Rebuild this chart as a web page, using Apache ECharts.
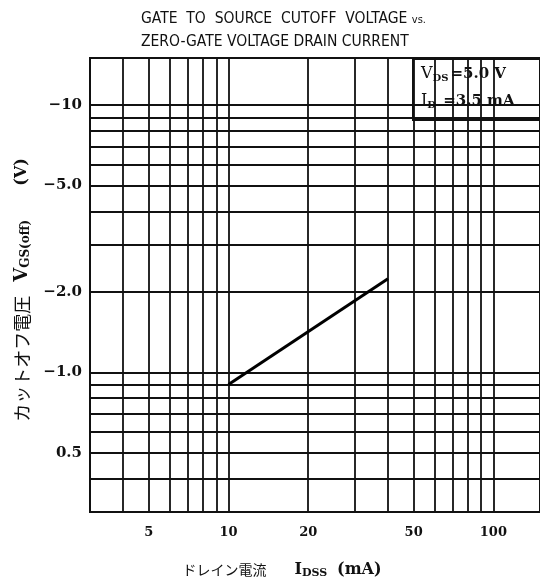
<!DOCTYPE html>
<html><head><meta charset="utf-8">
<script src="https://cdn.jsdelivr.net/npm/echarts@6/dist/echarts.min.js"></script>
<style>html,body{margin:0;padding:0;background:#fff}#c{width:540px;height:584px}</style>
</head><body><div id="c"></div>
<script>
const xGrid = [4,5,6,7,8,9,10,20,30,40,50,60,70,80,90,100];
const yGrid = [0.4,0.5,0.6,0.7,0.8,0.9,1,2,3,4,5,6,7,8,9,10];
const xLabels = [5,10,20,50,100];
const yLabels = [0.5,1,2,5,10];
const yLabelText = {0.5:'0.5', 1:'\u22121.0', 2:'\u22122.0', 5:'\u22125.0', 10:'\u221210'};
const idss = [10, 40];
const vgsoff = [0.9, 2.24];

const chart = echarts.init(document.getElementById('c'));
const gridCol = '#111';
const titleFont = '"DejaVu Sans Condensed", sans-serif';
chart.setOption({
  animation: false,
  backgroundColor: '#fff',
  title: {
    text: 'GATE  TO  SOURCE  CUTOFF  VOLTAGE {s|vs.}\nZERO-GATE VOLTAGE DRAIN CURRENT',
    left: 136, top: 2,
    textStyle: {
      fontFamily: titleFont, fontWeight: 'normal', fontSize: 15.5, color: '#111', lineHeight: 23,
      rich: { s: { fontFamily: titleFont, fontSize: 11, color: '#111', lineHeight: 23, padding: [4,0,0,0] } }
    }
  },
  grid: { left: 90, right: 0, top: 58, bottom: 69, show: true, borderColor: gridCol, borderWidth: 2, backgroundColor: 'transparent' },
  xAxis: {
    type: 'log', min: 3, max: 150, logBase: 10,
    axisLine: { show: true, lineStyle: { color: gridCol, width: 2 } },
    axisTick: { show: false, customValues: xGrid },
    splitLine: { show: true, lineStyle: { color: gridCol, width: 1.8 } },
    axisLabel: { customValues: xLabels, margin: 14, fontFamily: 'DejaVu Serif', fontWeight: 'bold', fontSize: 13, color: '#111' },
    name: '{jp|ドレイン電流}{v|I}{sub|DSS}{p|(mA)}',
    nameLocation: 'middle', nameGap: 48,
    nameTextStyle: {
      padding: [0, 66, 0, 0],
      rich: {
        jp: { fontFamily: 'Noto Sans CJK JP', fontSize: 14, color: '#111' },
        v: { fontFamily: 'DejaVu Serif', fontWeight: 'bold', fontSize: 16, color: '#111', padding: [0,0,0,28] },
        sub: { fontFamily: 'DejaVu Serif', fontWeight: 'bold', fontSize: 11, color: '#111', padding: [8,0,0,0] },
        p: { fontFamily: 'DejaVu Serif', fontWeight: 'bold', fontSize: 16, color: '#111', padding: [0,0,0,10] }
      }
    }
  },
  yAxis: {
    type: 'log', min: 0.3, max: 15, logBase: 10,
    axisLine: { show: true, lineStyle: { color: gridCol, width: 2 } },
    axisTick: { show: false, customValues: yGrid },
    splitLine: { show: true, lineStyle: { color: gridCol, width: 1.8 } },
    axisLabel: {
      customValues: yLabels, margin: 8, fontFamily: 'DejaVu Serif', fontWeight: 'bold', fontSize: 15, color: '#111',
      formatter: v => yLabelText[Math.round(v*10)/10] || ''
    },
    name: '{jp|カットオフ電圧}{v|V}{sub|GS(off)}{p|(V)}',
    nameLocation: 'middle', nameGap: 58, nameRotate: 90,
    nameTextStyle: {
      padding: [0, 10, 0, 0],
      rich: {
        jp: { fontFamily: 'Noto Sans CJK JP', fontSize: 18, color: '#111' },
        v: { fontFamily: 'DejaVu Serif', fontWeight: 'bold', fontSize: 18, color: '#111', padding: [0,0,0,14] },
        sub: { fontFamily: 'DejaVu Serif', fontWeight: 'bold', fontSize: 12, color: '#111', padding: [8,0,0,0] },
        p: { fontFamily: 'DejaVu Serif', fontWeight: 'bold', fontSize: 16, color: '#111', padding: [0,0,0,34] }
      }
    }
  },
  graphic: [{
    type: 'group', left: 412, top: 58, z: 100,
    children: [
      { type: 'rect', shape: { x: 0, y: 0, width: 127, height: 61 }, style: { fill: '#fff', stroke: '#111', lineWidth: 2 } },
      { type: 'text', x: 8, y: 6, style: {
          text: '{v|V}{sub|DS}{t|=5.0 V}',
          rich: {
            v: { fontFamily: 'DejaVu Serif', fontSize: 16, fill: '#111' },
            sub: { fontFamily: 'DejaVu Serif', fontWeight: 'bold', fontSize: 10, fill: '#111', padding: [8,2,0,0] },
            t: { fontFamily: 'DejaVu Serif', fontWeight: 'bold', fontSize: 15, fill: '#111' }
          }
      } },
      { type: 'text', x: 8, y: 33, style: {
          text: '{v|I}{sub|D}{t| =3.5 mA}',
          rich: {
            v: { fontFamily: 'DejaVu Serif', fontSize: 16, fill: '#111' },
            sub: { fontFamily: 'DejaVu Serif', fontWeight: 'bold', fontSize: 10, fill: '#111', padding: [8,2,0,0] },
            t: { fontFamily: 'DejaVu Serif', fontWeight: 'bold', fontSize: 15, fill: '#111' }
          }
      } }
    ]
  }],
  series: [{
    type: 'line', symbol: 'none', silent: true,
    data: idss.map((x, i) => [x, vgsoff[i]]),
    lineStyle: { color: '#000', width: 3 }
  }]
});
</script></body></html>
